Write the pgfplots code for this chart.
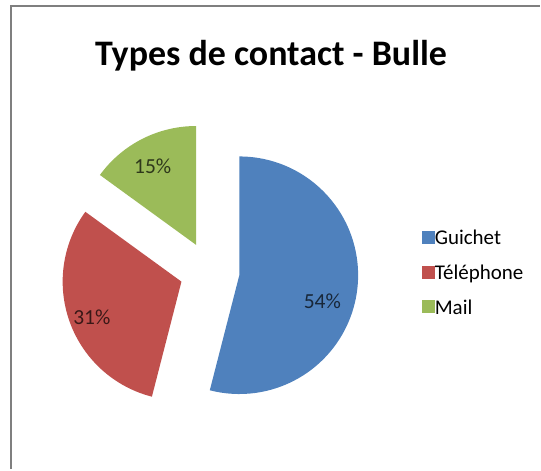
\documentclass[border=0pt]{standalone}
\usepackage{fontspec}
\setmainfont{Carlito}
\usepackage{pgfplots}
\usepackage{pgfplotstable}
\pgfplotsset{compat=1.18}
\definecolor{cG}{HTML}{4F81BD}
\definecolor{cT}{HTML}{C0504D}
\definecolor{cM}{HTML}{9BBB59}
\definecolor{frame}{HTML}{7F7F7F}

\pgfplotstableread{
label value
Guichet 54
Telephone 31
Mail 15
}\piedata

\begin{document}
\begin{tikzpicture}
\pgfplotstablegetelem{0}{value}\of\piedata \let\vA\pgfplotsretval
\pgfplotstablegetelem{1}{value}\of\piedata \let\vB\pgfplotsretval
\pgfplotstablegetelem{2}{value}\of\piedata \let\vC\pgfplotsretval
\pgfmathsetmacro\sA{90}
\pgfmathsetmacro\eA{\sA-3.6*\vA}
\pgfmathsetmacro\eB{\eA-3.6*\vB}
\pgfmathsetmacro\eC{\eB-3.6*\vC}
\pgfmathsetmacro\mA{(\sA+\eA)/2}
\pgfmathsetmacro\mB{(\eA+\eB)/2}
\pgfmathsetmacro\mC{(\eB+\eC)/2}
\def\cx{210}\def\cy{198}\def\dd{30}\def\rr{119}
\begin{axis}[
  x=1bp, y=1bp, scale only axis,
  xmin=0, xmax=541, ymin=0, ymax=470,
  hide axis, clip=false,
  legend image code/.code={\fill[#1] (0bp,-3.4bp) rectangle (12bp,8.6bp);},
  legend style={draw=none, fill=none, at={(axis cs:420,195)}, anchor=west,
    font=\fontsize{21bp}{24bp}\selectfont,
    nodes={text height=14bp, text depth=4bp, inner sep=0pt},
    row sep=16.75bp, column sep=0bp},
  legend cell align=left,
]
\path (axis cs:0,0) rectangle (axis cs:541,470);
\draw[frame, line width=2bp] (axis cs:11.5,0) -- (axis cs:11.5,463.5) -- (axis cs:541,463.5);

\fill[cG] (axis cs:{\cx+\dd*cos(\mA)},{\cy+\dd*sin(\mA)}) -- ++(\sA:\rr bp) arc[start angle=\sA, end angle=\eA, radius=\rr bp] -- cycle;
\fill[cT] (axis cs:{\cx+\dd*cos(\mB)},{\cy+\dd*sin(\mB)}) -- ++(\eA:\rr bp) arc[start angle=\eA, end angle=\eB, radius=\rr bp] -- cycle;
\fill[cM] (axis cs:{\cx+\dd*cos(\mC)},{\cy+\dd*sin(\mC)}) -- ++(\eB:\rr bp) arc[start angle=\eB, end angle=\eC, radius=\rr bp] -- cycle;

\node[font=\fontsize{21.5bp}{24bp}\selectfont, text=cG!30!black] at (axis cs:323,168) {54\%};
\node[font=\fontsize{21.5bp}{24bp}\selectfont, text=cT!30!black] at (axis cs:92,152) {31\%};
\node[font=\fontsize{21.5bp}{24bp}\selectfont, text=cM!30!black] at (axis cs:153,303) {15\%};

\node[anchor=base, font=\fontsize{36bp}{40bp}\selectfont\bfseries] at (axis cs:271.5,404.5) {Types de contact - Bulle};

\addlegendimage{cG}
\addlegendentry{Guichet}
\addlegendimage{cT}
\addlegendentry{Téléphone}
\addlegendimage{cM}
\addlegendentry{Mail}
\end{axis}
\end{tikzpicture}
\end{document}
